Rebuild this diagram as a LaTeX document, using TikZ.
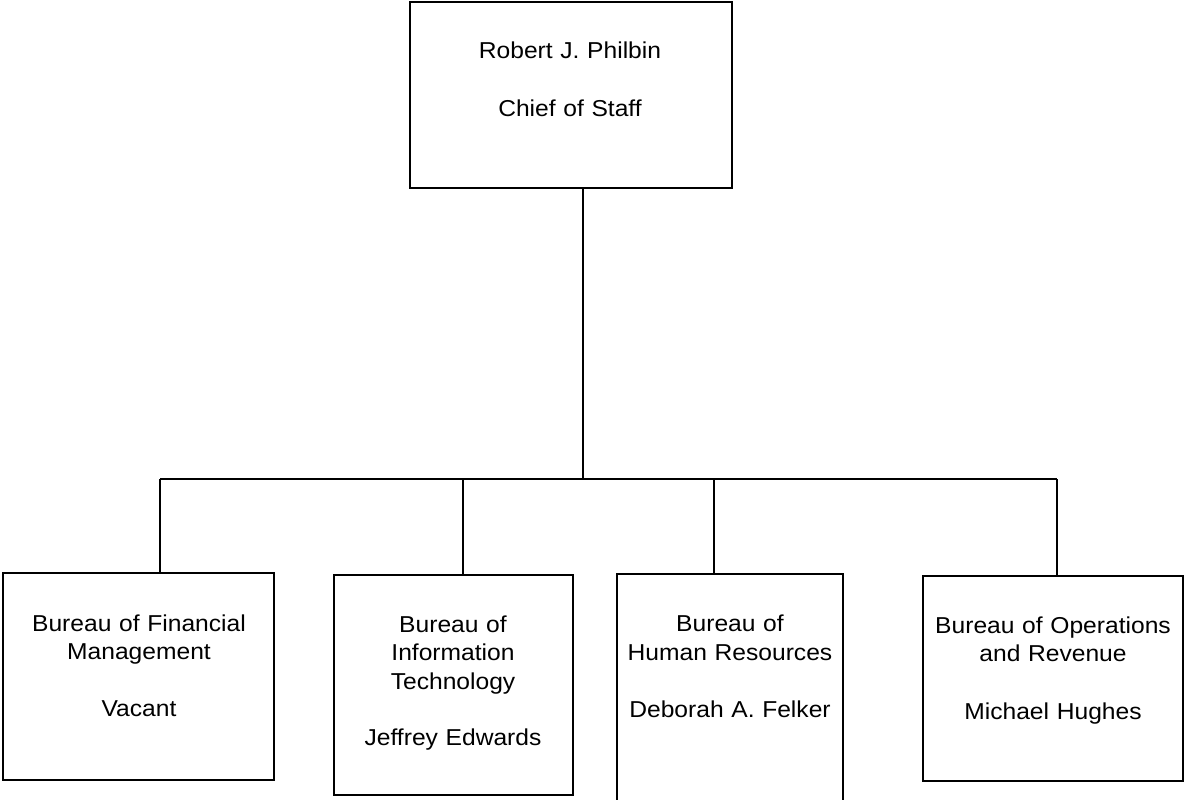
\documentclass[tikz,border=0pt]{standalone}
\usepackage{fontspec}
\setmainfont{Liberation Sans}[FakeStretch=1.07]
\begin{document}
\begin{tikzpicture}[x=1pt,y=-1pt,
  box/.style={draw,line width=1.8pt,rectangle,inner sep=0pt},
  lbl/.style={anchor=base,align=center,inner sep=0pt,font=\fontsize{23}{28.5}\selectfont},
  conn/.style={line width=1.4pt}]
\useasboundingbox (0,0) rectangle (1184,800);
\node[box,minimum width=322pt,minimum height=186pt] (top) at (571,95) {};
\node[box,minimum width=271pt,minimum height=207pt] (b1) at (138.5,676.5) {};
\node[box,minimum width=239pt,minimum height=220pt] (b2) at (453.5,685) {};
\node[box,minimum width=226pt,minimum height=229pt] (b3) at (730,688.5) {};
\node[box,minimum width=260pt,minimum height=205pt] (b4) at (1053,678.5) {};

\node[lbl,text width=300pt] (t0) at (570,59) {Robert J. Philbin\\[29.5pt]Chief of Staff};
\node[lbl,text width=260pt] (t1) at (139,631) {Bureau of Financial\\Management\\[28pt]Vacant};
\node[lbl,text width=230pt] (t2) at (453,632) {Bureau of\\Information\\Technology\\[28pt]Jeffrey Edwards};
\node[lbl,text width=224pt] (t3) at (730,631.5) {Bureau of\\Human Resources\\[29pt]Deborah A. Felker};
\node[lbl,text width=255pt] (t4) at (1053,633) {Bureau of Operations\\and Revenue\\[29pt]Michael Hughes};

\coordinate (bus) at (583,479);
\coordinate (j1) at (160,479);
\coordinate (j2) at (463,479);
\coordinate (j3) at (714,479);
\coordinate (j4) at (1057,479);
\draw[conn] (top.south -| bus) -- (bus);
\draw[conn] (j1) -- (j4);
\draw[conn] (j1) -- (j1 |- b1.north);
\draw[conn] (j2) -- (j2 |- b2.north);
\draw[conn] (j3) -- (j3 |- b3.north);
\draw[conn] (j4) -- (j4 |- b4.north);
\end{tikzpicture}
\end{document}
